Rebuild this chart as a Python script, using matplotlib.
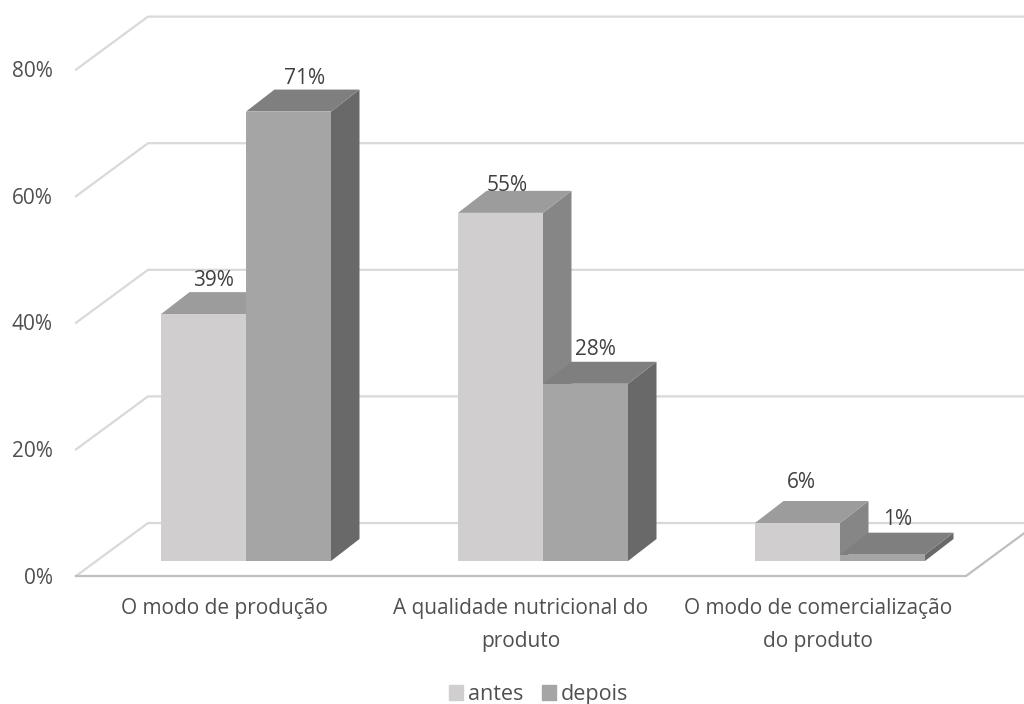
import matplotlib
matplotlib.use("Agg")
import matplotlib.pyplot as plt
from matplotlib.patches import Patch

# =========================
# 1. DATA
# =========================
categorias = ["O modo de produção", "A qualidade nutricional do\nproduto", "O modo de comercialização\ndo produto"]
antes = [39, 55, 6]
depois = [71, 28, 1]
ticks = [0, 20, 40, 60, 80]

# =========================
# 2. SCALE / 3D OFFSETS
# =========================
W, H = 1024, 704
px_cat = 297.0      # pixels per category
px_pct = 6.33       # pixels per percent
x0_px, y0_px = 246, 561

def dx(px):
    return px / px_cat

def dy(px):
    return px / px_pct

bar_w = dx(85)
depth_x, depth_y = dx(28.5), dy(22)
floor_y = dy(-15)
wall_x, wall_y = dx(72), dy(53)
left_x = dx(76 - x0_px)
right_x = dx(W - x0_px)

plt.rcParams["font.family"] = ["Open Sans", "DejaVu Sans"]
fig = plt.figure(figsize=(W / 100, H / 100), dpi=100)
ax = fig.add_axes([0, 0, 1, 1])
ax.set_xlim(dx(-x0_px), dx(W - x0_px))
ax.set_ylim(dy(y0_px - H), dy(y0_px))
ax.axis("off")

text_col = "#505050"
grid_col = "#D9D9D9"
fs = 15

# =========================
# 3. WALL / GRID
# =========================
for t in ticks:
    yf = t + floor_y
    ax.plot([left_x, left_x + wall_x, right_x], [yf, yf + wall_y, yf + wall_y],
            color=grid_col, lw=1.6, zorder=1, solid_joinstyle="miter")
    ax.text(dx(53 - x0_px), yf + dy(-2), f"{t}%", ha="right", va="center", fontsize=fs, color=text_col)

# floor front edge
fx = dx(966 - x0_px)
ax.plot([left_x, fx, fx + wall_x], [floor_y, floor_y, floor_y + wall_y],
        color="#BFBFBF", lw=1.6, zorder=1.5, solid_joinstyle="miter")

# =========================
# 4. BARS
# =========================
def bar3d(x, v, front, top, side):
    ax.fill([x + bar_w, x + bar_w + depth_x, x + bar_w + depth_x, x + bar_w],
            [0, depth_y, v + depth_y, v], color=side, lw=0, zorder=2)
    ax.fill([x, x + depth_x, x + bar_w + depth_x, x + bar_w],
            [v, v + depth_y, v + depth_y, v], color=top, lw=0, zorder=2)
    ax.fill([x, x + bar_w, x + bar_w, x], [0, 0, v, v], color=front, lw=0, zorder=2)

for i in range(3):
    bar3d(i - bar_w, antes[i], "#D0CECE", "#9C9C9C", "#868686")
    bar3d(i, depois[i], "#A5A5A5", "#7F7F7F", "#696969")

# =========================
# 5. LABELS
# =========================
off_antes = [(10, 33.5), (7, 27.5), (4, 40.5)]
off_depois = [(16, 33.5), (10, 34.5), (15, 35.5)]
for i in range(3):
    ax.text(i - bar_w / 2 + dx(off_antes[i][0]), antes[i] + dy(off_antes[i][1]), f"{antes[i]}%",
            ha="center", va="center", fontsize=fs, color="#404040", zorder=5)
    ax.text(i + bar_w / 2 + dx(off_depois[i][0]), depois[i] + dy(off_depois[i][1]), f"{depois[i]}%",
            ha="center", va="center", fontsize=fs, color="#404040", zorder=5)
    ax.text(i + dx(-22), dy(-37), categorias[i], ha="center", va="top", fontsize=fs,
            color=text_col, linespacing=1.74, zorder=5)

handles = [Patch(color="#D0CECE", label="antes"), Patch(color="#A5A5A5", label="depois")]
fig.legend(handles=handles, loc="center", bbox_to_anchor=(538.5 / W, 1 - 694.5 / H), ncol=2, frameon=False,
           fontsize=15.5, labelcolor=text_col, handlelength=0.65, handleheight=0.65,
           handletextpad=0.25, columnspacing=0.85, borderpad=0, borderaxespad=0)

fig.savefig("out.png", dpi=100)
